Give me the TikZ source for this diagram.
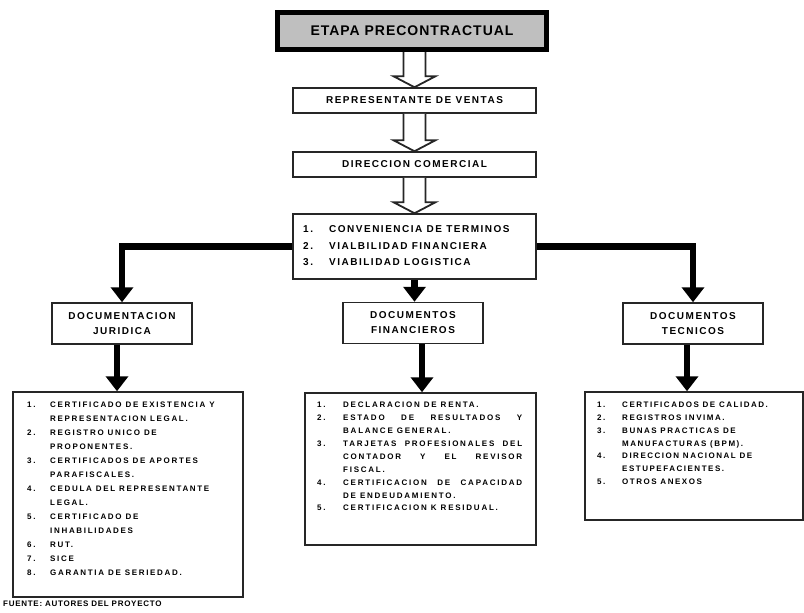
\documentclass[tikz,border=0pt]{standalone}
\usepackage{fontspec}
\usetikzlibrary{arrows.meta,calc}
\setmainfont{Liberation Sans}
\newfontfamily\fTop{Liberation Sans}[LetterSpace=7]
\newfontfamily\fMid{Liberation Sans}[LetterSpace=15]
\newfontfamily\fLL{Liberation Sans}[LetterSpace=21]
\newfontfamily\fLM{Liberation Sans}[LetterSpace=22]
\newfontfamily\fLR{Liberation Sans}[LetterSpace=19]
\newfontfamily\fFoot{Liberation Sans}[LetterSpace=9]
\newcommand\numbox[2]{\makebox[#1][l]{#2}}
\newcommand\hollowarrow[2]{%
  \draw[hollowarr] let \p1=(#1.south), \p2=(#2.north) in
   (\x2-11pt,\y1) -- (\x2-11pt,\y2+11pt) -- (\x2-21pt,\y2+11pt) -- (\x2,\y2)
   -- (\x2+21pt,\y2+11pt) -- (\x2+11pt,\y2+11pt) -- (\x2+11pt,\y1);}
\begin{document}
\begin{tikzpicture}[x=1pt,y=-1pt,
  box/.style={draw=black!85, line width=1.5pt, fill=white, inner sep=0pt, outer sep=auto},
  topbox/.style={draw=black, line width=5pt, fill=black!25, minimum width=269pt,
    minimum height=37pt, outer sep=auto, font=\fTop\bfseries\fontsize{14}{16}\selectfont},
  midtxt/.style={font=\fMid\bfseries\fontsize{10}{15}\selectfont, align=center},
  conn/.style={line width=6.5pt, -{Triangle[width=22pt,length=15pt]}},
  hollowarr/.style={draw=black!85, line width=1.8pt, fill=white, line join=miter},
  listtxt/.style={anchor=north west, inner sep=0pt, align=left},
]
\useasboundingbox (0,0) rectangle (804,613);

\node[topbox] (etapa) at (412,31) {ETAPA PRECONTRACTUAL};
\node[box, midtxt, minimum width=243pt, minimum height=25pt] (rep) at (414.5,100.5) {REPRESENTANTE DE VENTAS};
\node[box, midtxt, minimum width=243pt, minimum height=25pt] (dir) at (414.5,164.5) {DIRECCION COMERCIAL};
\node[box, minimum width=243pt, minimum height=65pt] (crit) at (414.5,246.5) {};
\node[listtxt, font=\fMid\bfseries\fontsize{10}{16.5}\selectfont] (critt) at (303,225.4)
  {\numbox{26pt}{1.}CONVENIENCIA DE TERMINOS\\
   \numbox{26pt}{2.}VIALBILIDAD FINANCIERA\\
   \numbox{26pt}{3.}VIABILIDAD LOGISTICA};

\hollowarrow{etapa}{rep}
\hollowarrow{rep}{dir}
\hollowarrow{dir}{crit}

\node[box, midtxt, minimum width=140pt, minimum height=41pt] (docjur) at (122,323.5) {DOCUMENTACION\\JURIDICA};
\node[box, midtxt, minimum width=140pt, minimum height=41pt] (docfin) at (413,323) {DOCUMENTOS\\FINANCIEROS};
\node[box, midtxt, minimum width=140pt, minimum height=41pt] (doctec) at (693,323.5) {DOCUMENTOS\\TECNICOS};

\node[box, minimum width=230pt, minimum height=205pt] (lL) at (128,494.5) {};
\node[box, minimum width=231pt, minimum height=152pt] (lM) at (420.5,469) {};
\node[box, minimum width=218pt, minimum height=128pt] (lR) at (694,456) {};

\draw[conn] (crit.west) -| (docjur.north);
\draw[conn] (crit.east) -| (doctec.north);
\draw[conn] (crit.south) -- (crit.south |- docfin.north);
\coordinate (jb) at ($(docjur.south)+(-5,0)$);
\draw[conn] (jb) -- (jb |- lL.north);
\coordinate (fb) at ($(docfin.south)+(9,0)$);
\draw[conn] (fb) -- (fb |- lM.north);
\coordinate (tb) at ($(doctec.south)+(-6,0)$);
\draw[conn] (tb) -- (tb |- lR.north);

\node[listtxt, font=\fLL\bfseries\fontsize{8}{14}\selectfont] (lLt) at (27,402)
  {\numbox{23pt}{1.}CERTIFICADO DE EXISTENCIA Y\\
   \hspace*{23pt}REPRESENTACION LEGAL.\\
   \numbox{23pt}{2.}REGISTRO UNICO DE\\
   \hspace*{23pt}PROPONENTES.\\
   \numbox{23pt}{3.}CERTIFICADOS DE APORTES\\
   \hspace*{23pt}PARAFISCALES.\\
   \numbox{23pt}{4.}CEDULA DEL REPRESENTANTE\\
   \hspace*{23pt}LEGAL.\\
   \numbox{23pt}{5.}CERTIFICADO DE\\
   \hspace*{23pt}INHABILIDADES\\
   \numbox{23pt}{6.}RUT.\\
   \numbox{23pt}{7.}SICE\\
   \numbox{23pt}{8.}GARANTIA DE SERIEDAD.};

\node[listtxt, font=\fLM\bfseries\fontsize{8}{12.9}\selectfont] (lMt) at (317,402)
  {\numbox{26pt}{1.}DECLARACION DE RENTA.\\
   \numbox{26pt}{2.}\makebox[179pt][s]{ESTADO DE RESULTADOS Y}\\
   \hspace*{26pt}BALANCE GENERAL.\\
   \numbox{26pt}{3.}\makebox[179pt][s]{TARJETAS PROFESIONALES DEL}\\
   \hspace*{26pt}\makebox[179pt][s]{CONTADOR Y EL REVISOR}\\
   \hspace*{26pt}FISCAL.\\
   \numbox{26pt}{4.}\makebox[179pt][s]{CERTIFICACION DE CAPACIDAD}\\
   \hspace*{26pt}DE ENDEUDAMIENTO.\\
   \numbox{26pt}{5.}CERTIFICACION K RESIDUAL.};

\node[listtxt, font=\fLR\bfseries\fontsize{8}{12.8}\selectfont] (lRt) at (597,402)
  {\numbox{25pt}{1.}CERTIFICADOS DE CALIDAD.\\
   \numbox{25pt}{2.}REGISTROS INVIMA.\\
   \numbox{25pt}{3.}BUNAS PRACTICAS DE\\
   \hspace*{25pt}MANUFACTURAS (BPM).\\
   \numbox{25pt}{4.}DIRECCION NACIONAL DE\\
   \hspace*{25pt}ESTUPEFACIENTES.\\
   \numbox{25pt}{5.}OTROS ANEXOS};

\node[anchor=west, inner sep=0pt, font=\fFoot\bfseries\fontsize{8}{9}\selectfont] (foot) at (3,604) {FUENTE: AUTORES DEL PROYECTO};
\end{tikzpicture}
\end{document}
